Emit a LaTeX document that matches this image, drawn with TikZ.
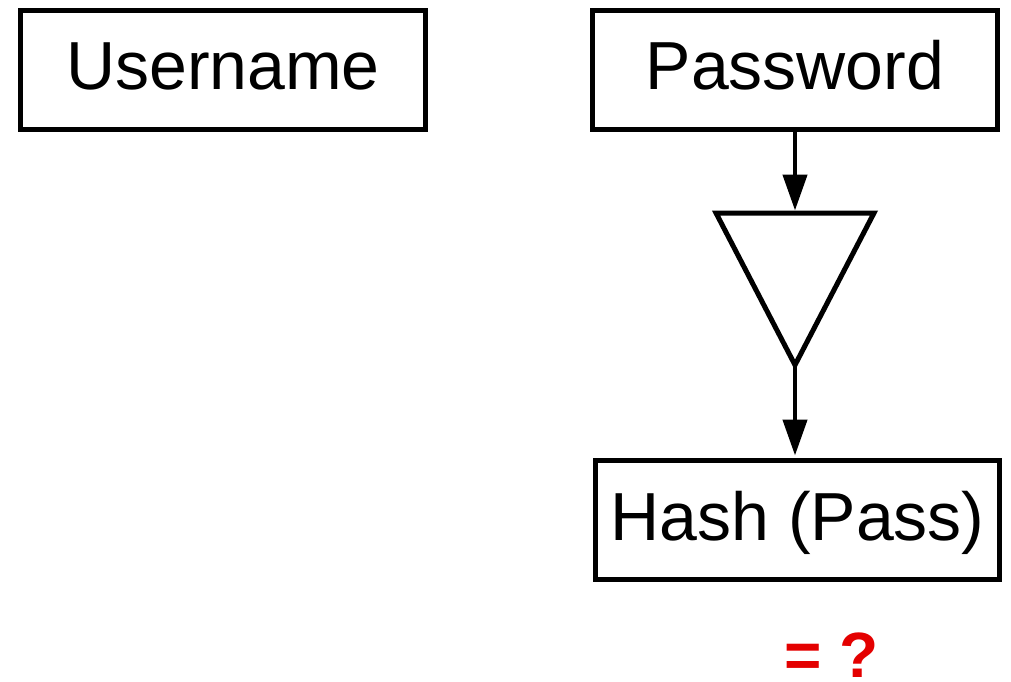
\documentclass[tikz,border=0pt]{standalone}
\usepackage{fontspec}
\setmainfont{Liberation Sans}
\usetikzlibrary{arrows.meta}
\definecolor{alertred}{RGB}{228,0,0}
\begin{document}
\begin{tikzpicture}[x=1pt,y=-1pt,
  box/.style={draw=black, line width=5pt, minimum width=405pt,
    minimum height=119pt, inner sep=0pt,
    font=\fontsize{68}{72}\selectfont, text height=49pt, text depth=9pt},
  flow/.style={line width=4.5pt, -{Triangle[length=36pt,width=24pt]}},
  funnel/.style={draw=black, line width=5pt, line join=miter},
  verdict/.style={font=\fontsize{64}{68}\selectfont\bfseries,
    text=alertred, inner sep=0pt, anchor=base west}]
\useasboundingbox (0,0) rectangle (1011,682);

% input boxes
\node[box] (user) at (223,70) {Username};
\node[box] (pass) at (795,70) {Password};

% hash function symbol
\coordinate (triL) at (716,213);
\coordinate (triR) at (874,213);
\coordinate (triTop) at (795,213);
\coordinate (triTip) at (795,365);
\draw[funnel] (triL) -- (triR) -- (triTip) -- cycle;

% output box
\node[box, minimum width=404pt] (hash) at (797.5,520) {Hash (Pass)};

% flow arrows
\draw[flow, shorten >=2.5pt] (pass.south -| triTop) -- (triTop);
\draw[flow, shorten >=2.5pt] (triTip) -- (triTip |- hash.north);

% comparison mark
\node[verdict] (eq) at (784,677) {= ?};
\end{tikzpicture}
\end{document}
